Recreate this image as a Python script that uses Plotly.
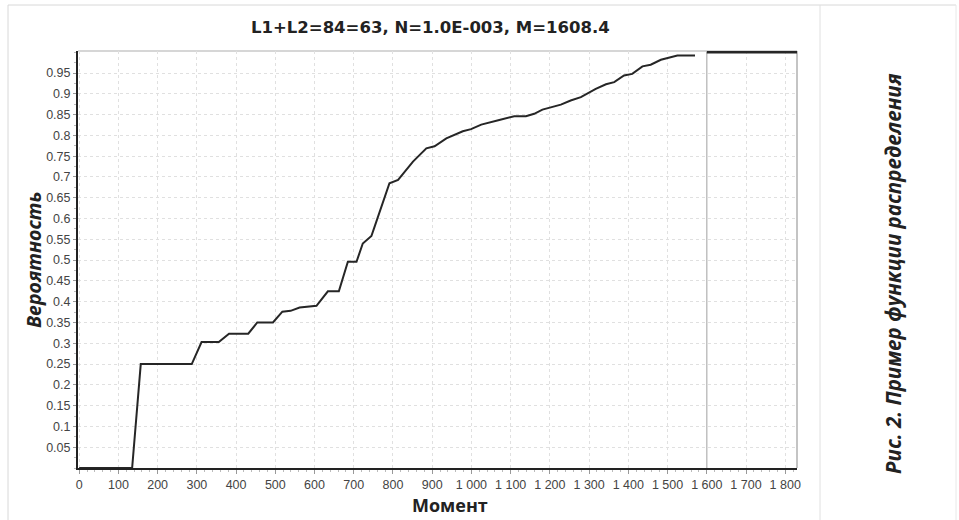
import plotly.graph_objects as go

# Main distribution curve
moment_x = [0, 135, 157, 287, 312, 356, 382, 431, 454, 494, 518, 539, 562, 605, 634, 662,
            685, 707, 723, 745, 753, 791, 813, 851, 885, 906, 936, 978, 999, 1025, 1071,
            1109, 1139, 1160, 1181, 1228, 1253, 1279, 1317, 1343, 1364, 1389, 1410, 1436,
            1457, 1483, 1525, 1570]
probability_y = [0, 0, 0.25, 0.25, 0.303, 0.303, 0.323, 0.323, 0.35, 0.35, 0.376, 0.378,
                 0.386, 0.39, 0.425, 0.425, 0.496, 0.496, 0.54, 0.558, 0.58, 0.685, 0.693,
                 0.737, 0.769, 0.774, 0.793, 0.81, 0.815, 0.826, 0.837, 0.846, 0.846, 0.852,
                 0.862, 0.874, 0.884, 0.892, 0.912, 0.923, 0.928, 0.944, 0.948, 0.966, 0.970,
                 0.982, 0.992, 0.992]

# Tail after the marker
tail_x = [1600, 1830]
tail_y = [1.0, 1.0]

# Vertical marker
marker_x = [1600, 1600]
marker_y = [0, 1.0]

# Ticks
x_tickvals = list(range(0, 1900, 100))
x_ticktext = ["0", "100", "200", "300", "400", "500", "600", "700", "800", "900",
              "1 000", "1 100", "1 200", "1 300", "1 400", "1 500", "1 600", "1 700", "1 800"]
y_tickvals = [0.05, 0.1, 0.15, 0.2, 0.25, 0.3, 0.35, 0.4, 0.45, 0.5, 0.55, 0.6, 0.65,
              0.7, 0.75, 0.8, 0.85, 0.9, 0.95]
y_ticktext = ["0.05", "0.1", "0.15", "0.2", "0.25", "0.3", "0.35", "0.4", "0.45", "0.5",
              "0.55", "0.6", "0.65", "0.7", "0.75", "0.8", "0.85", "0.9", "0.95"]

title_text = "L1+L2=84=63, N=1.0E-003, M=1608.4"
x_title = "Момент"
y_title = "Вероятность"
caption = "Рис. 2. Пример функции распределения"

fig = go.Figure()
fig.add_trace(go.Scatter(x=marker_x, y=marker_y, mode="lines",
                         line=dict(color="#c0c0c0", width=1.5), hoverinfo="skip"))
fig.add_trace(go.Scatter(x=moment_x, y=probability_y, mode="lines",
                         line=dict(color="#262626", width=2)))
fig.add_trace(go.Scatter(x=tail_x, y=tail_y, mode="lines",
                         line=dict(color="#262626", width=2.5)))

L, R, T, B = 78, 162, 51, 52
W, H = 959, 520
pw = W - L - R
ph = H - T - B


def px(x):
    return (x - L) / pw


def py(y):
    return (H - B - y) / ph


tick_font = dict(family="Liberation Sans, Arial, sans-serif", size=12.5, color="#444444")

fig.update_layout(
    width=W, height=H,
    margin=dict(l=L, r=R, t=T, b=B),
    paper_bgcolor="white", plot_bgcolor="white",
    showlegend=False,
    xaxis=dict(range=[-3, 1830], tickvals=x_tickvals, ticktext=x_ticktext,
               showgrid=True, gridcolor="#e0e0e0", griddash="dot", gridwidth=1,
               showline=True, linecolor="#222222", linewidth=2,
               ticks="outside", ticklen=4, tickcolor="#999999",
               minor=dict(ticks="outside", ticklen=2, tickcolor="#bbbbbb", dtick=20,
                          showgrid=False),
               tickfont=tick_font, zeroline=False),
    yaxis=dict(range=[0, 1.003], tickvals=y_tickvals, ticktext=y_ticktext,
               showgrid=True, gridcolor="#e0e0e0", griddash="dot", gridwidth=1,
               showline=True, linecolor="#222222", linewidth=2,
               ticks="outside", ticklen=3, tickcolor="#999999",
               minor=dict(ticks="outside", ticklen=2, tickcolor="#bbbbbb", dtick=0.025,
                          showgrid=False),
               tickfont=tick_font, zeroline=False),
    shapes=[
        # gray top and right border of plot area
        dict(type="line", xref="paper", yref="paper", x0=0, x1=1, y0=1, y1=1, layer="between",
             line=dict(color="#c8c8c8", width=1.5)),
        dict(type="line", xref="paper", yref="paper", x0=1, x1=1, y0=0, y1=1, layer="between",
             line=dict(color="#b0b0b0", width=1.5)),
        # outer frame
        dict(type="line", xref="paper", yref="paper", x0=px(8), x1=px(956), y0=py(5), y1=py(5),
             line=dict(color="#d8d8d8", width=1)),
        dict(type="line", xref="paper", yref="paper", x0=px(8), x1=px(8), y0=py(5), y1=py(525),
             line=dict(color="#d8d8d8", width=1)),
        dict(type="line", xref="paper", yref="paper", x0=px(820), x1=px(820), y0=py(5), y1=py(525),
             line=dict(color="#e0e0e0", width=1)),
        dict(type="line", xref="paper", yref="paper", x0=px(956), x1=px(956), y0=py(5), y1=py(525),
             line=dict(color="#e8e8e8", width=1)),
    ],
    annotations=[
        dict(text="<b>" + title_text + "</b>", xref="paper", yref="paper",
             x=px(430), y=py(28), showarrow=False, xanchor="center", yanchor="middle",
             font=dict(family="DejaVu Sans, sans-serif", size=16.5, color="#222222")),
        dict(text="<b><i>" + y_title + "</i></b>", xref="paper", yref="paper",
             x=px(33), y=py(260), showarrow=False, textangle=-90,
             xanchor="center", yanchor="middle",
             font=dict(family="Open Sans, sans-serif", size=19.5, color="#222222")),
        dict(text="<b>" + x_title + "</b>", xref="paper", yref="paper",
             x=px(450), y=py(505), showarrow=False, xanchor="center", yanchor="middle",
             font=dict(family="Open Sans, sans-serif", size=18, color="#222222")),
        dict(text="<b><i>" + caption + "</i></b>", xref="paper", yref="paper",
             x=px(893), y=py(274), showarrow=False, textangle=-90,
             xanchor="center", yanchor="middle",
             font=dict(family="Open Sans, sans-serif", size=20.5, color="#222222")),
    ],
)

fig.write_html("out.html", config={"displayModeBar": False},
               post_script="document.body.style.margin='0px';")
